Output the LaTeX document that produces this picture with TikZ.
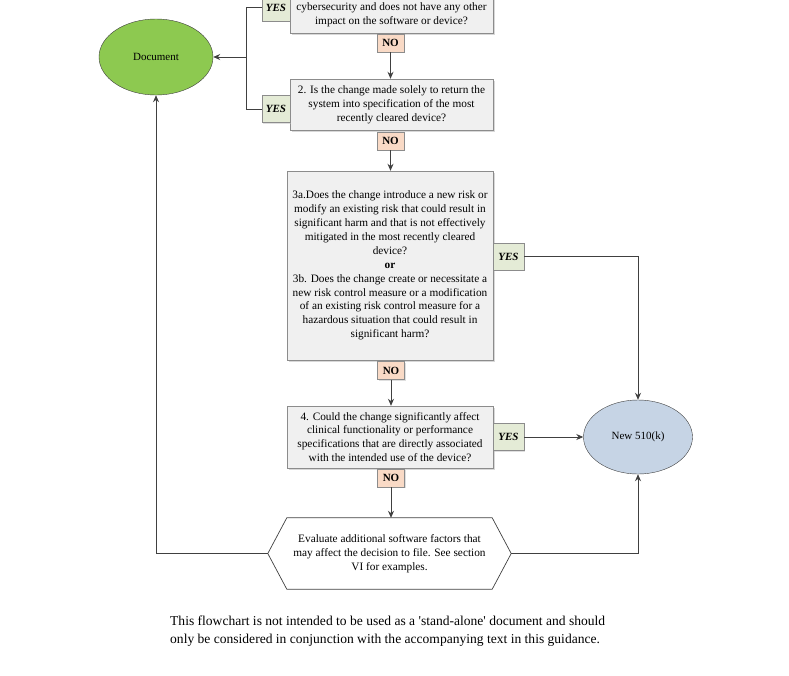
\documentclass[tikz,border=0pt]{standalone}
\usepackage{fontspec}
\setmainfont{Liberation Serif}
\usetikzlibrary{shadows,arrows.meta,shapes.geometric}
\definecolor{linegray}{HTML}{404040}
\definecolor{boxline}{HTML}{8C8C8C}
\definecolor{boxfill}{HTML}{F0F0F0}
\definecolor{yesfill}{HTML}{E4EBD6}
\definecolor{nofill}{HTML}{F9DAC6}
\definecolor{docgreen}{HTML}{8DC950}
\definecolor{newblue}{HTML}{C6D4E5}

\begin{document}
\begin{tikzpicture}[x=1pt, y=-1pt,
    qbox/.style={draw=boxline, fill=boxfill, drop shadow={shadow xshift=1.5pt, shadow yshift=-1.5pt, fill=black!30},
                 align=center, minimum width=203pt, inner sep=0pt, font=\fontsize{11.3}{13.9}\selectfont},
    yeslbl/.style={draw=boxline, fill=yesfill, drop shadow={shadow xshift=1pt, shadow yshift=-1pt, fill=black!25},
                   minimum width=28pt, minimum height=27pt, inner sep=0pt, font=\fontsize{11}{12}\selectfont\bfseries\itshape},
    nolbl/.style={draw=boxline, fill=nofill, drop shadow={shadow xshift=1pt, shadow yshift=-1pt, fill=black!25},
                  minimum width=27pt, minimum height=18pt, inner sep=0pt, font=\fontsize{11}{12}\selectfont\bfseries},
    endnode/.style={draw=linegray, ellipse, inner sep=0pt, font=\fontsize{11}{12}\selectfont},
    arr/.style={draw=linegray, line width=0.9pt, -{Stealth[length=7pt, width=6pt]}},
    con/.style={draw=linegray, line width=0.9pt}]
    \useasboundingbox (0,0) rectangle (789,675);

    % questions
    \node[qbox, minimum height=51pt] (q1) at (391.5, 7.5) {1. Is the change made solely to strengthen\\
        cybersecurity and does not have any other\\ impact on the software or device?};
    \node[qbox, minimum height=51pt] (q2) at (391.5, 104.5) {2. Is the change made solely to return the\\
        system into specification of the most\\ recently cleared device?};
    \node[qbox, minimum width=206pt, minimum height=189pt] (q3) at (390, 265.5) {3a.Does the change introduce a new risk or\\
        modify an existing risk that could result in\\ significant harm and that is not effectively\\
        mitigated in the most recently cleared\\ device?\\
        \textbf{or}\\
        3b. Does the change create or necessitate a\\ new risk control measure or a modification\\
        of an existing risk control measure for a\\ hazardous situation that could result in\\ significant harm?};
    \node[qbox, minimum width=206pt, minimum height=62pt] (q4) at (390, 437) {4. Could the change significantly affect\\
        clinical functionality or performance\\ specifications that are directly associated\\ with the intended use of the device?};

    % answers
    \node[yeslbl] (yes1) at (276, 7.5) {YES};
    \node[yeslbl] (yes2) at (276, 109) {YES};
    \node[yeslbl, minimum width=31pt] (yes3) at (508.5, 256.5) {YES};
    \node[yeslbl, minimum width=31pt] (yes4) at (508.5, 437) {YES};
    \node[nolbl] (no1) at (390.5, 43) {NO};
    \node[nolbl] (no2) at (390.5, 141) {NO};
    \node[nolbl] (no3) at (391, 370.5) {NO};
    \node[nolbl] (no4) at (391, 478) {NO};

    % outcomes
    \node[endnode, fill=docgreen, minimum width=114pt, minimum height=76pt] (doc) at (156, 57) {Document};
    \node[endnode, fill=newblue, minimum width=109pt, minimum height=74pt] (new) at (638, 437) {New 510(k)};

    % evaluate step
    \node[align=center, minimum width=205pt, minimum height=71pt, inner sep=0pt, font=\fontsize{11.3}{13.9}\selectfont] (eval) at (389.5, 553.5)
        {Evaluate additional software factors that\\ may affect the decision to file. See section\\ VI for examples.};
    \coordinate (evalL) at ([xshift=-19pt]eval.west);
    \coordinate (evalR) at ([xshift=19pt]eval.east);
    \draw[draw=linegray, line width=0.7pt] (eval.north west) -- (eval.north east) -- (evalR) -- (eval.south east)
        -- (eval.south west) -- (evalL) -- cycle;

    % connectors
    \coordinate (join) at (246, 57);
    \draw[con] (yes1.west) -| (join);
    \draw[con] (yes2.west) -| (join);
    \draw[arr] (join) -- (doc.east);
    \draw[arr] (no1.south) -- (no1.south |- q2.north);
    \draw[arr] (no2.south) -- (no2.south |- q3.north);
    \draw[arr] (no3.south) -- (no3.south |- q4.north);
    \draw[arr] (no4.south) -- (no4.south |- eval.north);
    \draw[arr] (yes3.east) -| (new.north);
    \draw[arr] (yes4.east) -- (new.west);
    \draw[arr] (evalR) -| (new.south);
    \draw[arr] (evalL) -| (doc.south);

    \node[anchor=north west, align=left, inner sep=0pt, font=\fontsize{13.55}{18}\selectfont] (note) at (170, 616)
        {This flowchart is not intended to be used as a \textquotesingle stand-alone\textquotesingle\ document and should\\
         only be considered in conjunction with the accompanying text in this guidance.};
\end{tikzpicture}
\end{document}
